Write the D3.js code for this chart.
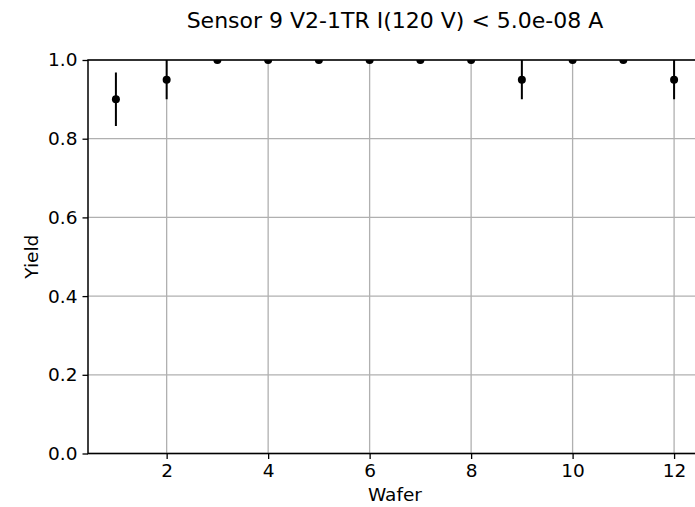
<!DOCTYPE html>
<html>
<head>
<meta charset="utf-8">
<script src="https://cdn.jsdelivr.net/npm/d3@7"></script>
<style>
  body { margin: 0; background: #fff; }
  text { font-family: "DejaVu Sans", sans-serif; fill: #000; }
</style>
</head>
<body>
<div id="chart"></div>
<script>
// wafer numbers and measured yields
const wafers = [1, 2, 3, 4, 5, 6, 7, 8, 9, 10, 11, 12];
const yields = [0.90, 0.95, 1.0, 1.0, 1.0, 1.0, 1.0, 1.0, 0.95, 1.0, 1.0, 0.95];
const errLow = [0.068, 0.05, 0, 0, 0, 0, 0, 0, 0.05, 0, 0, 0.05];
const errHigh = [0.068, 0.05, 0, 0, 0, 0, 0, 0, 0.05, 0, 0, 0.05];
const xTicks = [2, 4, 6, 8, 10, 12];
const yTicks = [0.0, 0.2, 0.4, 0.6, 0.8, 1.0];

const width = 695, height = 507;
const margin = { top: 60, left: 88, bottom: 453.5, right: 702 };

const data = wafers.map((w, i) => ({ w, y: yields[i], lo: yields[i] - errLow[i], hi: yields[i] + errHigh[i] }));

const svg = d3.select("#chart").append("svg")
    .attr("width", width)
    .attr("height", height);

const x = d3.scaleLinear().domain([0.45, 12.55]).range([margin.left, margin.right]);
const y = d3.scaleLinear().domain([0, 1]).range([margin.bottom, margin.top]);

svg.append("defs").append("clipPath").attr("id", "clip")
    .append("rect")
    .attr("x", margin.left).attr("y", margin.top)
    .attr("width", margin.right - margin.left)
    .attr("height", margin.bottom - margin.top);

// grid
const grid = svg.append("g").attr("stroke", "#b0b0b0").attr("stroke-width", 1.3);
grid.selectAll(".gx").data(xTicks).join("line")
    .attr("x1", d => x(d)).attr("x2", d => x(d))
    .attr("y1", margin.top).attr("y2", margin.bottom);
grid.selectAll(".gy").data(yTicks).join("line")
    .attr("x1", margin.left).attr("x2", margin.right)
    .attr("y1", d => y(d)).attr("y2", d => y(d));

// error bars + points
const plot = svg.append("g").attr("clip-path", "url(#clip)");
plot.selectAll(".err").data(data.filter(d => d.hi > d.lo)).join("line")
    .attr("x1", d => x(d.w)).attr("x2", d => x(d.w))
    .attr("y1", d => y(d.lo)).attr("y2", d => y(d.hi))
    .attr("stroke", "#000").attr("stroke-width", 2);
plot.selectAll("circle").data(data).join("circle")
    .attr("cx", d => x(d.w)).attr("cy", d => y(d.y))
    .attr("r", 4).attr("fill", "#000");

// axes
const xAxis = svg.append("g")
    .attr("transform", `translate(0,${margin.bottom})`)
    .call(d3.axisBottom(x).tickValues(xTicks).tickSize(5.5).tickPadding(5).tickFormat(d3.format("d")));
const yAxis = svg.append("g")
    .attr("transform", `translate(${margin.left},0)`)
    .call(d3.axisLeft(y).tickValues(yTicks).tickSize(5.5).tickPadding(5).tickFormat(d3.format(".1f")));
[xAxis, yAxis].forEach(a => {
    a.select(".domain").remove();
    a.selectAll("line").attr("stroke", "#000").attr("stroke-width", 1.3);
    a.selectAll("text").attr("font-size", "18.5px").attr("font-family", "DejaVu Sans").attr("fill", "#222");
});

// frame
svg.append("rect")
    .attr("x", margin.left).attr("y", margin.top)
    .attr("width", margin.right - margin.left)
    .attr("height", margin.bottom - margin.top)
    .attr("fill", "none").attr("stroke", "#000").attr("stroke-width", 1.5);

// labels
svg.append("text")
    .attr("x", (margin.left + margin.right) / 2).attr("y", 501)
    .attr("text-anchor", "middle").attr("font-size", "18.5px")
    .text("Wafer");
svg.append("text")
    .attr("transform", `translate(37.5,${(margin.top + margin.bottom) / 2}) rotate(-90)`)
    .attr("text-anchor", "middle").attr("font-size", "18.5px")
    .text("Yield");
svg.append("text")
    .attr("x", (margin.left + margin.right) / 2).attr("y", 28)
    .attr("text-anchor", "middle").attr("font-size", "22px")
    .text("Sensor 9 V2-1TR I(120 V) < 5.0e-08 A");
</script>
</body>
</html>
